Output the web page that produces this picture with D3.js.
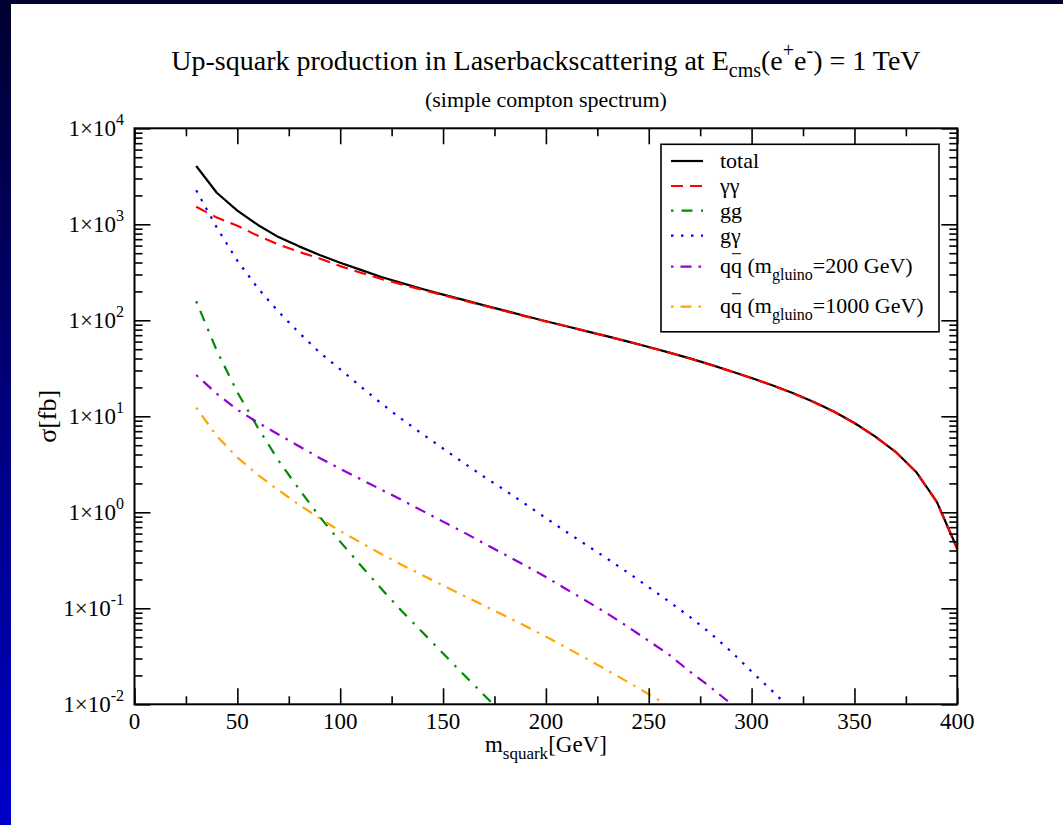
<!DOCTYPE html>
<html><head><meta charset="utf-8">
<script src="https://cdn.jsdelivr.net/npm/d3@7"></script>
<style>
body{margin:0;background:#fff}
svg{display:block}
text{font-family:"Liberation Serif","Times New Roman",serif;fill:#000}
</style>
</head><body><div id="chart"></div>
<script>
// ---- data ----
const masses = [30,40,50,60,70,80,90,100,110,120,130,140,150,160,170,180,190,200,210,220,230,240,250,260,270,280,290,300,310,320,330,340,350,360,370,380,390,400];
const totalXS = [4050,2130,1390,984,736,589,479,398,335,283,244,212,185,163,143,126,111,97.7,86.7,76.7,67.9,60.0,52.7,46.1,40.1,34.5,29.5,25.1,21.1,17.5,14.2,11.2,8.51,6.17,4.27,2.63,1.29,0.417];
const gammaGammaXS = [1520,1175,966,759,617,516,440,367,313,270,237,207,183,161,142,125,110,97.5,86.6,76.6,67.8,59.9,52.6,46.0,40.0,34.4,29.4,25.0,21.0,17.4,14.1,11.15,8.48,6.15,4.26,2.62,1.28,0.41];
const ggXS = [158,48.4,17.8,7.6,3.47,1.74,0.90,0.495,0.279,0.160,0.0933,0.0562,0.0339,0.0204,0.01245,0.0076];
const gGammaXS = [2260,923,417,216,123,74.1,46.2,30.9,20.4,13.6,9.33,6.53,4.62,3.27,2.34,1.70,1.22,0.871,0.624,0.452,0.327,0.234,0.166,0.117,0.0813,0.055,0.0355,0.0219,0.0138,0.0085];
const qq200XS = [26.9,17.2,11.7,8.6,6.46,4.88,3.68,2.84,2.21,1.72,1.34,1.035,0.80,0.619,0.473,0.363,0.279,0.212,0.158,0.118,0.0879,0.0638,0.0457,0.0327,0.0219,0.0151,0.0101,0.0066];
const qq1000XS = [12.3,6.24,3.72,2.45,1.70,1.20,0.865,0.638,0.484,0.368,0.283,0.221,0.173,0.1355,0.1064,0.0836,0.0655,0.0507,0.0389,0.0297,0.0225,0.017,0.01274,0.00955];
const xTickValues = [0,50,100,150,200,250,300,350,400];
const xMinorValues = [25,75,125,175,225,275,325,375];
const yTickExponents = [-2,-1,0,1,2,3,4];
const seriesNames = ["total","γγ","gg","gγ","qq200","qq1000"];

// ---- layout / style ----
const W = 1063, H = 825;
const L = 134.5, R = 957.3, T = 128.3, B = 704.3;
const styles = {
  total:  {color:"#000000", dash:null},
  "γγ":   {color:"#ff0000", dash:"12,7"},
  gg:     {color:"#008b00", dash:"2.5,8,11,8.5"},
  "gγ":   {color:"#0000ff", dash:"2.5,7.5"},
  qq200:  {color:"#9400d3", dash:"2.5,7,11,7"},
  qq1000: {color:"#ffa500", dash:"2.5,7,11,7"}
};
const seriesData = {
  total: totalXS, "γγ": gammaGammaXS, gg: ggXS, "gγ": gGammaXS, qq200: qq200XS, qq1000: qq1000XS
};

const svg = d3.select("#chart").append("svg").attr("width", W).attr("height", H);
const defs = svg.append("defs");
const grad = defs.append("linearGradient").attr("id","bandGrad").attr("x1",0).attr("y1",0).attr("x2",0).attr("y2",1);
grad.append("stop").attr("offset","0%").attr("stop-color","#000030");
grad.append("stop").attr("offset","100%").attr("stop-color","#0000c8");
defs.append("clipPath").attr("id","plotClip").append("rect")
  .attr("x",L).attr("y",T).attr("width",R-L).attr("height",B-T);

svg.append("rect").attr("width",W).attr("height",H).attr("fill","#fff");
svg.append("rect").attr("x",0).attr("y",0).attr("width",11).attr("height",H).attr("fill","url(#bandGrad)");
svg.append("rect").attr("x",0).attr("y",0).attr("width",W).attr("height",4).attr("fill","#000030");

const x = d3.scaleLinear().domain([0,400]).range([L,R]);
const y = d3.scaleLog().domain([1e-2,1e4]).range([B,T]);

// ---- lines ----
const line = d3.line().x(d=>x(d[0])).y(d=>y(d[1]));
const gLines = svg.append("g").attr("clip-path","url(#plotClip)");
const drawOrder = ["gg","gγ","qq200","qq1000","total","γγ"];
drawOrder.forEach(name=>{
  const vals = seriesData[name];
  const pts = vals.map((v,i)=>[masses[i], v]);
  gLines.append("path").datum(pts).attr("d",line)
    .attr("fill","none").attr("stroke",styles[name].color)
    .attr("stroke-width",2.2)
    .attr("stroke-dasharray",styles[name].dash)
    .attr("stroke-linejoin","round");
});

// ---- axes (ticks inward on all four sides) ----
const yMinor = [];
for (let e=-2;e<4;e++) for (let k=2;k<10;k++) yMinor.push(k*Math.pow(10,e));
const yMajor = yTickExponents.map(e=>Math.pow(10,e));
function styleAxis(g){ g.select(".domain").remove(); g.selectAll("line").attr("stroke","#000").attr("stroke-width",1.6); g.selectAll("text").remove(); }
svg.append("g").attr("transform",`translate(0,${B})`).call(d3.axisBottom(x).tickValues(xTickValues).tickSize(-16)).call(styleAxis);
svg.append("g").attr("transform",`translate(0,${B})`).call(d3.axisBottom(x).tickValues(xMinorValues).tickSize(-8)).call(styleAxis);
svg.append("g").attr("transform",`translate(0,${T})`).call(d3.axisTop(x).tickValues(xTickValues).tickSize(-16)).call(styleAxis);
svg.append("g").attr("transform",`translate(0,${T})`).call(d3.axisTop(x).tickValues(xMinorValues).tickSize(-8)).call(styleAxis);
svg.append("g").attr("transform",`translate(${L},0)`).call(d3.axisLeft(y).tickValues(yMajor).tickSize(-16)).call(styleAxis);
svg.append("g").attr("transform",`translate(${L},0)`).call(d3.axisLeft(y).tickValues(yMinor).tickSize(-8)).call(styleAxis);
svg.append("g").attr("transform",`translate(${R},0)`).call(d3.axisRight(y).tickValues(yMajor).tickSize(-16)).call(styleAxis);
svg.append("g").attr("transform",`translate(${R},0)`).call(d3.axisRight(y).tickValues(yMinor).tickSize(-8)).call(styleAxis);
svg.append("rect").attr("x",L).attr("y",T).attr("width",R-L).attr("height",B-T)
  .attr("fill","none").attr("stroke","#000").attr("stroke-width",2);

// tick labels
svg.append("g").selectAll("text").data(xTickValues).join("text")
  .attr("x",d=>x(d)).attr("y",B+25).attr("text-anchor","middle").attr("font-size",23).text(d=>d);
const yl = svg.append("g").selectAll("text").data(yTickExponents).join("text")
  .attr("x",124).attr("y",d=>y(Math.pow(10,d))+8).attr("text-anchor","end").attr("font-size",23);
yl.append("tspan").text("1×10");
yl.append("tspan").attr("font-size",16).attr("dy",-11).text(d=>d<0?"-"+(-d):String(d));

// axis titles
const xt = svg.append("text").attr("x",(L+R)/2).attr("y",752).attr("text-anchor","middle").attr("font-size",23);
xt.append("tspan").text("m");
xt.append("tspan").attr("font-size",17).attr("dy",7).text("squark");
xt.append("tspan").attr("dy",-7).text("[GeV]");
svg.append("text").attr("transform",`translate(56,${(T+B)/2}) rotate(-90)`).attr("text-anchor","middle").attr("font-size",26).text("σ[fb]");

// title
const tt = svg.append("text").attr("x",(L+R)/2).attr("y",70).attr("text-anchor","middle").attr("font-size",28);
tt.append("tspan").text("Up-squark production in Laserbackscattering at E");
tt.append("tspan").attr("font-size",20).attr("dy",7).text("cms");
tt.append("tspan").attr("dy",-7).text("(e");
tt.append("tspan").attr("font-size",20).attr("dy",-13).text("+");
tt.append("tspan").attr("dy",13).text("e");
tt.append("tspan").attr("font-size",20).attr("dy",-13).text("-");
tt.append("tspan").attr("dy",13).text(") = 1 TeV");
svg.append("text").attr("x",(L+R)/2).attr("y",107).attr("text-anchor","middle").attr("font-size",22).text("(simple compton spectrum)");

// ---- legend ----
const legendRows = [161,186,210.7,235.7,266.7,306.7];
const lg = svg.append("g");
lg.append("rect").attr("x",661).attr("y",144.3).attr("width",278).attr("height",187.5)
  .attr("fill","#fff").attr("stroke","#000").attr("stroke-width",1.6);
seriesNames.forEach((name,i)=>{
  const yy = legendRows[i];
  lg.append("line").attr("x1",671).attr("x2",703).attr("y1",yy).attr("y2",yy)
    .attr("stroke",styles[name].color).attr("stroke-width",2.2).attr("stroke-dasharray",styles[name].dash);
  if (name==="qq200" || name==="qq1000"){
    const t = lg.append("text").attr("x",720).attr("y",yy+6).attr("font-size",22);
    t.append("tspan").text("qq (m");
    t.append("tspan").attr("font-size",16).attr("dy",7).text("gluino");
    t.append("tspan").attr("dy",-7).text(name==="qq200"?"=200 GeV)":"=1000 GeV)");
    // overline on second q
    const tmp = lg.append("text").attr("font-size",22).text("q");
    const qw = tmp.node().getComputedTextLength(); tmp.remove();
    lg.append("line").attr("x1",720+qw+1).attr("x2",720+2*qw-1).attr("y1",yy-13).attr("y2",yy-13)
      .attr("stroke","#000").attr("stroke-width",1);
  } else {
    lg.append("text").attr("x",720).attr("y",yy+7).attr("font-size",22).text(name);
  }
});
</script>
</body></html>
